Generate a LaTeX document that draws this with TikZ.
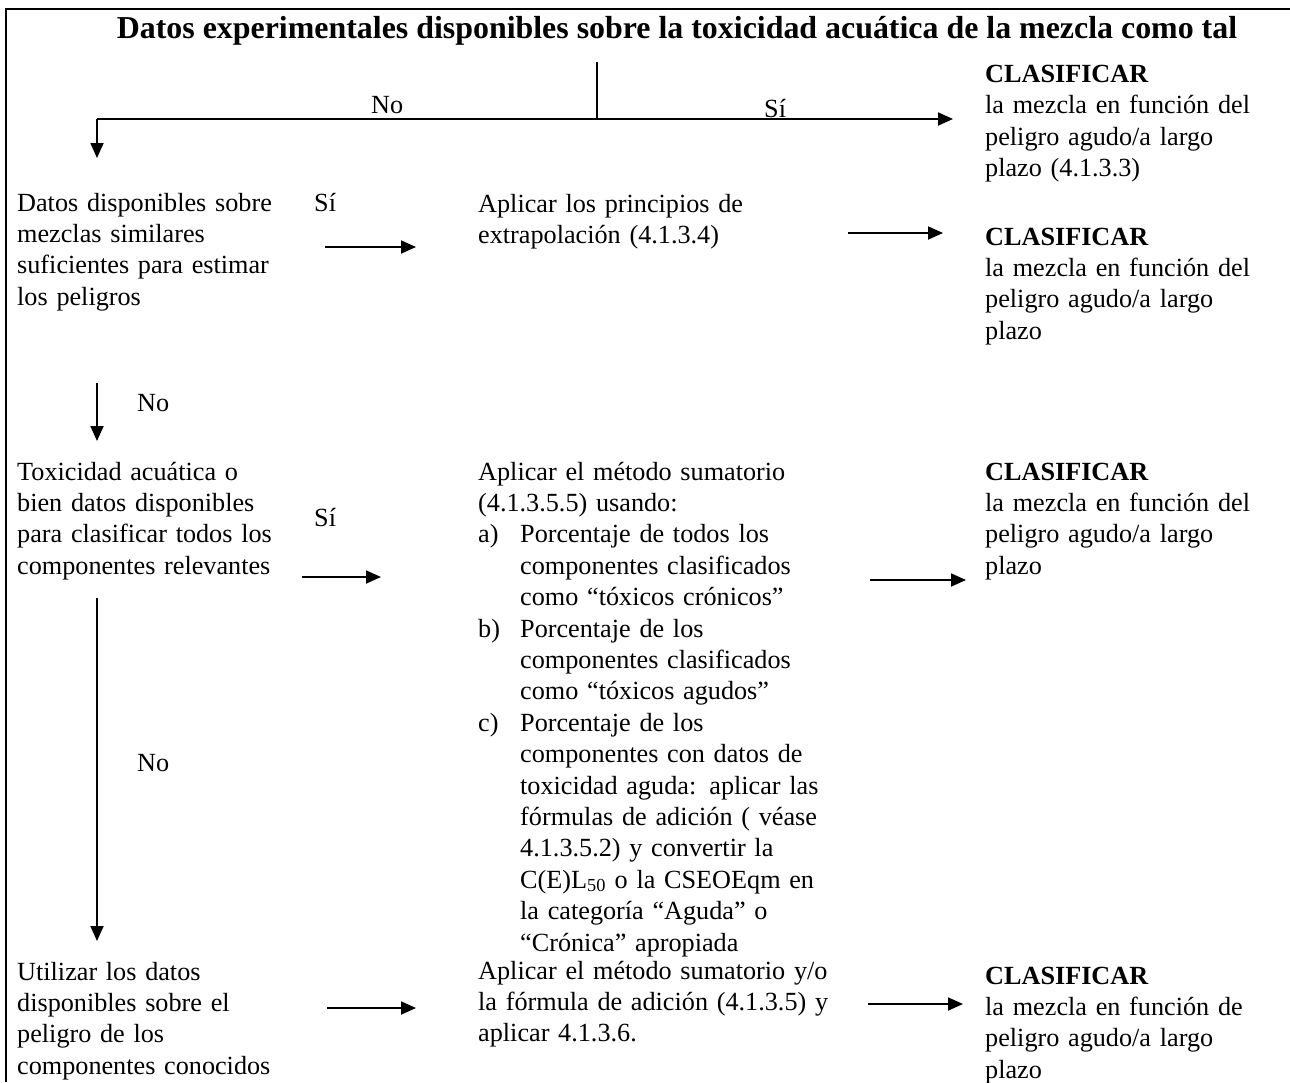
\documentclass[tikz,border=0pt]{standalone}
\usepackage{fontspec}
\setmainfont{Liberation Serif}
\usetikzlibrary{arrows.meta}
\newcommand\lbrk{\hfil\break}
\begin{document}
\begin{tikzpicture}[x=1pt,y=-1pt,
  txt/.style={anchor=base west, inner sep=0pt, text width=480pt, align=left, font=\fontsize{26.2}{31.4}\selectfont},
  lbl/.style={anchor=base west, inner sep=0pt, font=\fontsize{26.2}{31.4}\selectfont},
  arr/.style={line width=1.8pt, -{Triangle[length=15pt,width=13pt]}},
  ln/.style={line width=1.8pt},
  frame/.style={line width=2.6pt}]
\useasboundingbox (0,0) rectangle (1290,1082);
% frame
\draw[frame] (6,1082) -- (6,9) -- (1290,9);
% title
\node[anchor=base, inner sep=0pt, font=\fontsize{31.9}{36}\selectfont\bfseries] (title) at (677,38)
  {Datos experimentales disponibles sobre la toxicidad acuática de la mezcla como tal};
% top branching
\coordinate (t0) at (597,62);
\coordinate (t1) at (597,119);
\coordinate (tl) at (97,119);
\coordinate (tr) at (953,119);
\coordinate (td) at (97,158);
\draw[ln] (t0) -- (t1);
\draw[arr] (tl) -- (tr);
\draw[arr] (tl) -- (td);
\node[lbl] (no0) at (371,113) {No};
\node[lbl] (si0) at (764,117) {Sí};
% result 1
\node[txt] (c1) at (985,82.5) {\textbf{CLASIFICAR}\\la mezcla en función del\\peligro agudo/a largo\\plazo (4.1.3.3)};
% row 2
\node[txt] (q1) at (17,211) {Datos disponibles sobre\\mezclas similares\\suficientes para estimar\\los peligros};
\node[lbl] (si1) at (314,211) {Sí};
\coordinate (a1s) at (325,247);
\coordinate (a1e) at (416,247);
\draw[arr] (a1s) -- (a1e);
\node[txt] (p1) at (478,212) {Aplicar los principios de\\extrapolación (4.1.3.4)};
\coordinate (a2s) at (848,233);
\coordinate (a2e) at (943,233);
\draw[arr] (a2s) -- (a2e);
\node[txt] (c2) at (985,245) {\textbf{CLASIFICAR}\\la mezcla en función del\\peligro agudo/a largo\\plazo};
% No 1
\coordinate (d1s) at (97,383);
\coordinate (d1e) at (97,441);
\draw[arr] (d1s) -- (d1e);
\node[lbl] (no1) at (137,411) {No};
% row 3
\node[txt] (q2) at (17,480) {Toxicidad acuática o\\bien datos disponibles\\para clasificar todos los\\componentes relevantes};
\node[lbl] (si2) at (314,526) {Sí};
\coordinate (a3s) at (302,577);
\coordinate (a3e) at (381,577);
\draw[arr] (a3s) -- (a3e);
\node[txt] (p2) at (478,480) {Aplicar el método sumatorio\\(4.1.3.5.5) usando:\par
\hangindent=42pt\hangafter=1\noindent\makebox[42pt][l]{a)}Porcentaje de todos los\lbrk componentes clasificados\lbrk como “tóxicos crónicos”\par
\hangindent=42pt\hangafter=1\noindent\makebox[42pt][l]{b)}Porcentaje de los\lbrk componentes clasificados\lbrk como “tóxicos agudos”\par
\hangindent=42pt\hangafter=1\noindent\makebox[42pt][l]{c)}Porcentaje de los\lbrk componentes con datos de\lbrk toxicidad aguda: aplicar las\lbrk fórmulas de adición ( véase\lbrk 4.1.3.5.2) y convertir la\lbrk C(E)L\textsubscript{50} o la CSEOEqm en\lbrk la categoría “Aguda” o\lbrk “Crónica” apropiada\par};
\coordinate (a4s) at (870,580);
\coordinate (a4e) at (966,580);
\draw[arr] (a4s) -- (a4e);
\node[txt] (c3) at (985,480) {\textbf{CLASIFICAR}\\la mezcla en función del\\peligro agudo/a largo\\plazo};
% No 2
\coordinate (d2s) at (97,598);
\coordinate (d2e) at (97,941);
\draw[arr] (d2s) -- (d2e);
\node[lbl] (no2) at (137,771) {No};
% row 4
\node[txt] (q3) at (17,980) {Utilizar los datos\\disponibles sobre el\\peligro de los\\componentes conocidos};
\coordinate (a5s) at (327,1008);
\coordinate (a5e) at (416,1008);
\draw[arr] (a5s) -- (a5e);
\node[txt] (p3) at (478,979) {Aplicar el método sumatorio y/o\\la fórmula de adición (4.1.3.5) y\\aplicar 4.1.3.6.};
\coordinate (a6s) at (868,1004);
\coordinate (a6e) at (963,1004);
\draw[arr] (a6s) -- (a6e);
\node[txt] (c4) at (985,984) {\textbf{CLASIFICAR}\\la mezcla en función de\\peligro agudo/a largo\\plazo};
\end{tikzpicture}
\end{document}
